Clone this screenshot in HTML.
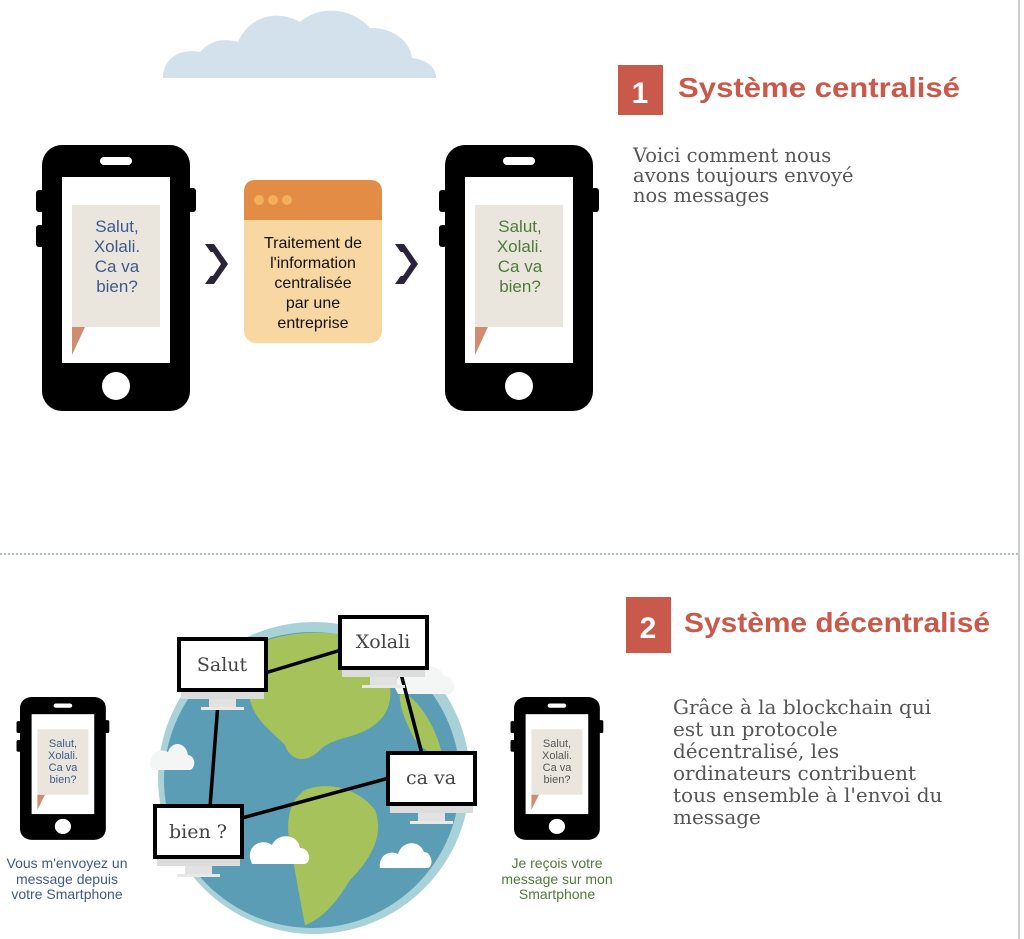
<!DOCTYPE html>
<html><head><meta charset="utf-8"><style>
html,body{margin:0;padding:0;background:#fff;}
svg{display:block;}
.sans{font-family:"Liberation Sans",sans-serif;}
.ser{font-family:"DejaVu Serif","Liberation Serif",serif;}
</style></head><body>
<svg width="1024" height="939" viewBox="0 0 1024 939" xmlns="http://www.w3.org/2000/svg">
<defs>
<g id="phone">
  <rect x="0" y="0" width="148" height="266" rx="20" fill="#000"/>
  <rect x="-6" y="45" width="8" height="22" rx="3" fill="#000"/>
  <rect x="-6" y="80" width="8" height="22" rx="3" fill="#000"/>
  <rect x="146" y="43" width="8" height="24" rx="3" fill="#000"/>
  <rect x="58" y="12" width="32" height="8" rx="4" fill="#fff"/>
  <rect x="20" y="32" width="108" height="186" fill="#fff"/>
  <rect x="30" y="60" width="88" height="122" fill="#ebe6dd"/>
  <polygon points="30,182 43,182 30,210" fill="#d08c70"/>
  <circle cx="74" cy="241" r="14" fill="#fff"/>
</g>
<g id="mon">
  <rect x="0" y="0" width="87" height="51" fill="#fff" stroke="#000" stroke-width="4"/>
  <rect x="2" y="53" width="83" height="7" fill="#dcdcdc"/>
  <rect x="30" y="60" width="27" height="8" fill="#e2e2e2"/>
  <rect x="22" y="68" width="43" height="3" fill="#e8e8e8"/>
</g>
<g id="chev">
  <polygon points="0,0 9,0 23,20 9,40 0,40 14,20" fill="#2b2338"/>
  <polygon points="3,8 8,8 16,20 8,32 3,32 11,20" fill="#fff"/>
</g>
</defs>
<line x1="1019" y1="0" x2="1019" y2="939" stroke="#bbb" stroke-width="1.5"/>
<path d="M163,78 C163,58 180,48 200,52 C210,40 225,38 238,42 C248,18 275,8 300,22 C318,6 350,6 370,28 C395,28 410,42 412,58 C428,60 436,68 436,78 Z" fill="#d3e1ed"/>
<use href="#phone" x="42" y="145"/>
<use href="#phone" x="445" y="145"/>
<text class="sans" font-size="17" fill="#3d5a8c" text-anchor="middle"><tspan x="117" y="232">Salut,</tspan><tspan x="117" y="252">Xolali.</tspan><tspan x="117" y="272">Ca va</tspan><tspan x="117" y="292">bien?</tspan></text>
<text class="sans" font-size="17" fill="#4f7a3a" text-anchor="middle"><tspan x="520" y="232">Salut,</tspan><tspan x="520" y="252">Xolali.</tspan><tspan x="520" y="272">Ca va</tspan><tspan x="520" y="292">bien?</tspan></text>
<use href="#chev" x="205" y="244"/>
<use href="#chev" x="395" y="244"/>
<rect x="244" y="180" width="138" height="163" rx="12" fill="#f9d7a3"/>
<path d="M244,220 V192 Q244,180 256,180 H370 Q382,180 382,192 V220 Z" fill="#e38c45"/>
<circle cx="259" cy="200" r="5" fill="#f2b05a"/><circle cx="273" cy="200" r="5" fill="#f2b05a"/><circle cx="287" cy="200" r="5" fill="#f2b05a"/>
<text class="sans" font-size="16" fill="#111" text-anchor="middle"><tspan x="313" y="248">Traitement de</tspan><tspan x="313" y="268">l'information</tspan><tspan x="313" y="288">centralisée</tspan><tspan x="313" y="308">par une</tspan><tspan x="313" y="328">entreprise</tspan></text>
<rect x="618" y="65" width="45" height="50" fill="#c9594a"/>
<text class="sans" x="640" y="103" font-size="30" font-weight="bold" fill="#fff" text-anchor="middle">1</text>
<text class="sans" x="678" y="97" font-size="28" font-weight="bold" fill="#c9594a" textLength="282" lengthAdjust="spacingAndGlyphs">Système centralisé</text>
<text class="ser" font-size="19.5" fill="#555"><tspan x="633" y="162">Voici comment nous</tspan><tspan x="633" y="182">avons toujours envoyé</tspan><tspan x="633" y="202">nos messages</tspan></text>
<line x1="0" y1="554" x2="1019" y2="554" stroke="#9aa" stroke-width="1.5" stroke-dasharray="2,2"/>
<rect x="626" y="597" width="45" height="56" fill="#c9594a"/>
<text class="sans" x="648" y="638" font-size="30" font-weight="bold" fill="#fff" text-anchor="middle">2</text>
<text class="sans" x="684" y="632" font-size="28" font-weight="bold" fill="#c9594a" textLength="306" lengthAdjust="spacingAndGlyphs">Système décentralisé</text>
<text class="ser" font-size="20" fill="#555"><tspan x="673" y="714">Grâce à la blockchain qui</tspan><tspan x="673" y="736">est un protocole</tspan><tspan x="673" y="758">décentralisé, les</tspan><tspan x="673" y="780">ordinateurs contribuent</tspan><tspan x="673" y="802">tous ensemble à l'envoi du</tspan><tspan x="673" y="824">message</tspan></text>
<circle cx="314" cy="778" r="156" fill="#a9d2d8"/>
<circle cx="312" cy="780" r="148" fill="#5b9db5"/>
<path d="M245,650 C280,630 330,628 360,640 C390,660 400,700 380,720 C360,740 335,735 320,750 C305,765 290,760 285,745 C270,730 255,720 250,700 C240,685 238,665 245,650 Z" fill="#a6c25a"/>
<path d="M305,790 C330,780 360,790 375,810 C385,835 370,860 350,880 C335,905 320,920 305,925 C300,900 295,870 290,845 C285,820 290,800 305,790 Z" fill="#a6c25a"/>
<path d="M400,690 C420,700 440,730 445,770 C440,760 425,750 415,740 C405,720 398,705 400,690 Z" fill="#a6c25a"/>
<path d="M150,765 C150,752 160,748 168,752 C172,740 186,742 188,755 C196,756 196,768 190,770 H152 Z" fill="#f4f6f6"/>
<path d="M250,858 C248,845 262,838 272,845 C278,832 298,834 300,848 C310,848 312,862 305,864 H252 Z" fill="#fff"/>
<path d="M380,868 C378,855 390,850 398,854 C402,840 420,840 424,852 C432,852 434,866 428,868 Z" fill="#fff"/>
<path d="M395,688 C393,676 405,670 415,676 C420,662 440,664 444,676 C454,676 458,690 450,694 H398 Z" fill="#f4f6f6"/>
<g stroke="#000" stroke-width="3.5">
<line x1="265" y1="673" x2="341" y2="650"/>
<line x1="400" y1="670" x2="422" y2="754"/>
<line x1="219" y1="690" x2="210" y2="807"/>
<line x1="242" y1="818" x2="389" y2="778"/>
</g>
<use href="#mon" x="179" y="639"/>
<use href="#mon" x="340" y="617"/>
<use href="#mon" x="388" y="753"/>
<use href="#mon" x="155" y="806"/>
<g class="ser" font-size="19" fill="#444" text-anchor="middle">
<text x="222" y="671">Salut</text>
<text x="383" y="648">Xolali</text>
<text x="431" y="784">ca va</text>
<text x="198" y="838">bien ?</text>
</g>
<g transform="translate(20,697) scale(0.58,0.537)"><use href="#phone"/></g>
<g transform="translate(514,697) scale(0.58,0.537)"><use href="#phone"/></g>
<text class="sans" font-size="11" fill="#3d5a8c" text-anchor="middle"><tspan x="63" y="747">Salut,</tspan><tspan x="63" y="759">Xolali.</tspan><tspan x="63" y="771">Ca va</tspan><tspan x="63" y="783">bien?</tspan></text>
<text class="sans" font-size="11" fill="#555" text-anchor="middle"><tspan x="557" y="747">Salut,</tspan><tspan x="557" y="759">Xolali.</tspan><tspan x="557" y="771">Ca va</tspan><tspan x="557" y="783">bien?</tspan></text>
<text class="sans" font-size="14" fill="#3d5a8c" text-anchor="middle"><tspan x="67" y="868">Vous m'envoyez un</tspan><tspan x="67" y="884">message depuis</tspan><tspan x="67" y="899">votre Smartphone</tspan></text>
<text class="sans" font-size="14" fill="#4f7a3a" text-anchor="middle"><tspan x="557" y="868">Je reçois votre</tspan><tspan x="557" y="884">message sur mon</tspan><tspan x="557" y="899">Smartphone</tspan></text>
</svg>
</body></html>
